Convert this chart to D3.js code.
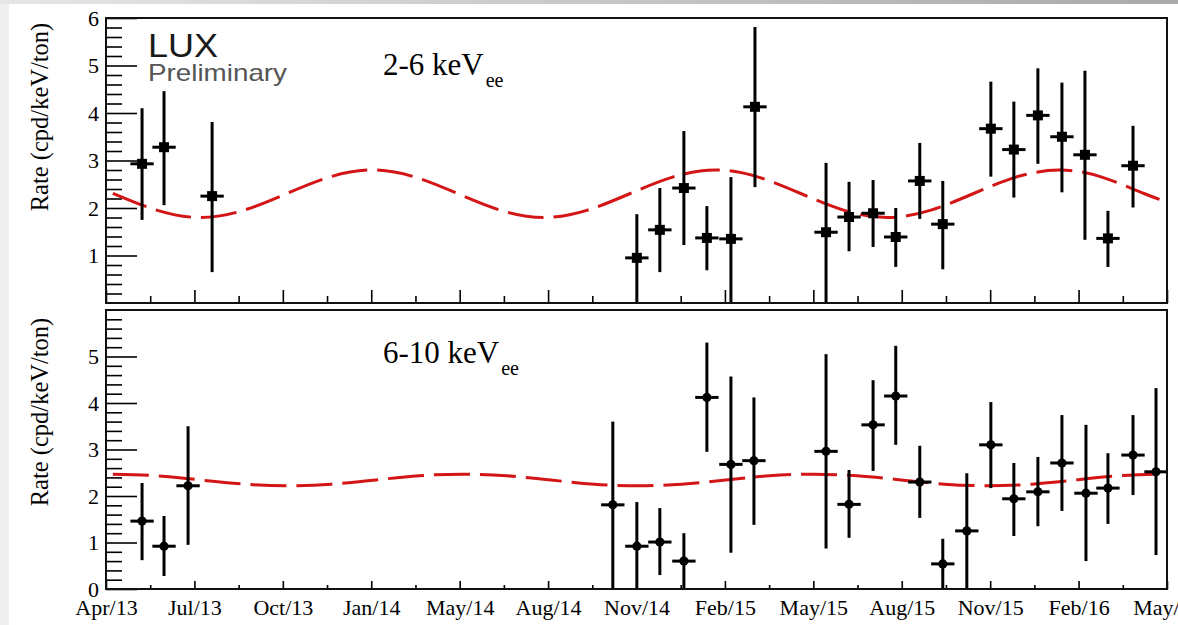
<!DOCTYPE html>
<html><head><meta charset="utf-8">
<script src="https://cdn.jsdelivr.net/npm/d3@7"></script>
<style>body{margin:0;background:#fff;} svg{display:block}</style>
</head><body><svg id="c" width="1178" height="625"></svg>
<script>
// ---------- data ----------
const xTickLabels = ["Apr/13","Jul/13","Oct/13","Jan/14","May/14","Aug/14","Nov/14","Feb/15","May/15","Aug/15","Nov/15","Feb/16","May/16"];
const axisStartYear = 2013.30, axisEndYear = 2016.39;
const binHalfWidth = 0.034; // years
const yTicksTop = [1,2,3,4,5,6];
const yTicksBottom = [0,1,2,3,4,5];

// 2-6 keVee
const lowYear = [2013.405,2013.469,2013.609,2014.846,2014.913,2014.983,2015.050,2015.120,2015.190,2015.397,2015.464,2015.534,2015.600,2015.670,2015.737,2015.877,2015.944,2016.014,2016.084,2016.151,2016.218,2016.291];
const lowRate = [2.93,3.28,2.25,0.95,1.54,2.42,1.37,1.35,4.13,1.49,1.81,1.89,1.39,2.57,1.66,3.67,3.23,3.95,3.50,3.12,1.36,2.89];
const lowRateMin = [1.75,2.06,0.65,0.0,0.65,1.22,0.69,0.0,2.44,0.0,1.09,1.18,0.76,1.77,0.71,2.66,2.22,2.93,2.33,1.33,0.76,2.01];
const lowRateMax = [4.10,4.46,3.81,1.87,2.42,3.62,2.04,2.65,5.81,2.95,2.55,2.59,2.00,3.37,2.57,4.66,4.24,4.94,4.64,4.89,1.94,3.73];

// 6-10 keVee
const highYear = [2013.405,2013.469,2013.539,2014.776,2014.846,2014.913,2014.983,2015.050,2015.120,2015.187,2015.397,2015.464,2015.534,2015.600,2015.670,2015.737,2015.807,2015.877,2015.944,2016.014,2016.084,2016.154,2016.218,2016.291,2016.358];
const highRate = [1.46,0.92,2.22,1.81,0.92,1.01,0.60,4.12,2.68,2.76,2.96,1.82,3.53,4.15,2.30,0.54,1.25,3.10,1.94,2.09,2.71,2.06,2.17,2.88,2.52];
const highRateMin = [0.62,0.28,0.95,0.0,0.0,0.30,0.0,2.95,0.78,1.38,0.87,1.10,2.54,3.10,1.53,0.0,0.0,2.17,1.14,1.35,1.68,0.60,1.40,2.02,0.73];
const highRateMax = [2.28,1.57,3.50,3.60,1.87,1.74,1.20,5.30,4.57,4.12,5.05,2.56,4.49,5.23,3.08,1.08,2.49,4.02,2.71,2.84,3.74,3.53,2.92,3.74,4.32];

// fitted modulation curves
const lowFitYear = [2013.32,2013.45,2013.575,2013.70,2013.825,2013.95,2014.075,2014.20,2014.325,2014.45,2014.575,2014.70,2014.825,2014.95,2015.075,2015.20,2015.325,2015.45,2015.575,2015.70,2015.825,2015.95,2016.075,2016.20,2016.325,2016.378];
const lowFitRate = [2.31,1.95,1.80,1.95,2.30,2.65,2.80,2.65,2.30,1.95,1.80,1.95,2.30,2.65,2.80,2.65,2.30,1.95,1.80,1.95,2.30,2.65,2.80,2.65,2.30,2.16];
const highFitYear = [2013.32,2013.447,2013.575,2013.703,2013.83,2013.957,2014.085,2014.212,2014.34,2014.467,2014.595,2014.722,2014.85,2014.977,2015.105,2015.232,2015.36,2015.487,2015.615,2015.742,2015.87,2015.997,2016.125,2016.252,2016.38];
const highFitRate = [2.47,2.435,2.345,2.255,2.22,2.255,2.345,2.435,2.47,2.435,2.345,2.255,2.22,2.255,2.345,2.435,2.47,2.435,2.345,2.255,2.22,2.255,2.345,2.435,2.48];

// ---------- drawing ----------
const svg = d3.select("#c");
const defs = svg.append("defs");
const grad = defs.append("linearGradient").attr("id","topband");
grad.append("stop").attr("offset","0%").attr("stop-color","#e6e6e6");
grad.append("stop").attr("offset","100%").attr("stop-color","#a9a9a9");
svg.append("rect").attr("width",1178).attr("height",625).attr("fill","#efefef");
svg.append("rect").attr("width",1178).attr("height",4).attr("fill","url(#topband)");
svg.append("rect").attr("x",9).attr("y",4).attr("width",1169).attr("height",621).attr("fill","#fff");

const X0 = 106, X1 = 1167;
const x = d3.scaleLinear([axisStartYear, axisEndYear], [X0, X1]);
const step = (axisEndYear - axisStartYear) / 12;
const majorX = xTickLabels.map((d,i) => axisStartYear + i*step);
const minorX = d3.range(12).map(i => axisStartYear + (i+0.5)*step);
const serif = "'Liberation Serif','Times New Roman',serif";

function panel(cfg) {
  const y = d3.scaleLinear([0, 6], [cfg.bottom, cfg.top]);
  const g = svg.append("g");
  const cid = "clip" + cfg.id;
  defs.append("clipPath").attr("id", cid).append("rect")
    .attr("x", X0).attr("y", cfg.top).attr("width", X1 - X0).attr("height", cfg.bottom - cfg.top);

  // y minor ticks
  const minorY = d3.range(0, 30).map(i => i*0.2).filter(v => Math.abs(v - Math.round(v)) > 1e-6);
  g.append("g").attr("transform", `translate(${X0},0)`)
    .call(d3.axisLeft(y).tickValues(minorY).tickSize(-16).tickFormat(""))
    .call(a => a.select(".domain").remove());
  g.append("g").attr("transform", `translate(${X0},0)`)
    .call(d3.axisLeft(y).tickValues(cfg.yTicks).tickSize(-31).tickPadding(7).tickFormat(d3.format("d")))
    .call(a => a.select(".domain").remove());
  // x ticks
  g.append("g").attr("transform", `translate(0,${cfg.bottom})`)
    .call(d3.axisBottom(x).tickValues(minorX).tickSize(-cfg.xMinor).tickFormat(""))
    .call(a => a.select(".domain").remove());
  g.append("g").attr("transform", `translate(0,${cfg.bottom})`)
    .call(d3.axisBottom(x).tickValues(majorX).tickSize(-cfg.xMajor).tickPadding(10)
      .tickFormat((d,i) => cfg.xLabels ? xTickLabels[i] : ""))
    .call(a => a.select(".domain").remove());
  g.selectAll(".tick line").attr("stroke", "#000").attr("stroke-width", 1.6);
  g.selectAll(".tick text").attr("font-family", serif).attr("font-size", 22).attr("fill", "#000");

  // y title
  g.append("text").attr("transform", `translate(39,${cfg.titleY}) rotate(-90)`)
    .attr("text-anchor", "middle").attr("dominant-baseline", "central")
    .attr("font-family", serif).attr("font-size", 24.5).text("Rate (cpd/keV/ton)");

  const plot = g.append("g").attr("clip-path", `url(#${cid})`);
  // fit curve
  const fit = cfg.fitYear.map((d,i) => [d, cfg.fitRate[i]]);
  plot.append("path").datum(fit)
    .attr("d", d3.line().x(d => x(d[0])).y(d => y(d[1])).curve(d3.curveNatural))
    .attr("fill", "none").attr("stroke", "#d41515").attr("stroke-width", 3)
    .attr("stroke-dasharray", "36,10");

  const pts = cfg.year.map((d,i) => ({t: d, v: cfg.rate[i], lo: cfg.lo[i], hi: cfg.hi[i]}));
  plot.selectAll(".ev").data(pts).join("line")
    .attr("x1", d => x(d.t)).attr("x2", d => x(d.t))
    .attr("y1", d => y(d.lo)).attr("y2", d => y(d.hi))
    .attr("stroke", "#000").attr("stroke-width", 3);
  plot.selectAll(".eh").data(pts).join("line")
    .attr("x1", d => x(d.t - binHalfWidth)).attr("x2", d => x(d.t + binHalfWidth))
    .attr("y1", d => y(d.v)).attr("y2", d => y(d.v))
    .attr("stroke", "#000").attr("stroke-width", 3);
  if (cfg.square) {
    plot.selectAll(".m").data(pts).join("rect")
      .attr("x", d => x(d.t) - 5).attr("y", d => y(d.v) - 5)
      .attr("width", 10).attr("height", 10).attr("fill", "#000");
  } else {
    plot.selectAll(".m").data(pts).join("circle")
      .attr("cx", d => x(d.t)).attr("cy", d => y(d.v)).attr("r", 4.6).attr("fill", "#000");
  }

  // frame
  g.append("rect").attr("x", X0).attr("y", cfg.top).attr("width", X1 - X0).attr("height", cfg.bottom - cfg.top)
    .attr("fill", "none").attr("stroke", "#111").attr("stroke-width", 2);

  // energy label
  const lab = g.append("text").attr("x", 383).attr("y", cfg.labelY)
    .attr("font-family", serif).attr("font-size", 31).attr("fill", "#000");
  lab.append("tspan").text(cfg.label);
  lab.append("tspan").attr("dy", 12).attr("dx", 2).attr("font-size", 20).text("ee");
  return g;
}

panel({id: "t", top: 18, bottom: 303, yTicks: yTicksTop, xMajor: 13, xMinor: 7, xLabels: false,
  titleY: 117, year: lowYear, rate: lowRate, lo: lowRateMin, hi: lowRateMax,
  fitYear: lowFitYear, fitRate: lowFitRate, square: true, label: "2-6 keV", labelY: 75});
panel({id: "b", top: 310, bottom: 589, yTicks: yTicksBottom, xMajor: 8, xMinor: 4, xLabels: true,
  titleY: 412, year: highYear, rate: highRate, lo: highRateMin, hi: highRateMax,
  fitYear: highFitYear, fitRate: highFitRate, square: false, label: "6-10 keV", labelY: 363});

// LUX logo
svg.append("text").attr("x", 148).attr("y", 57).attr("font-family", "'Liberation Sans',Arial,sans-serif")
  .attr("font-size", 33).attr("fill", "#1a1a1a").attr("textLength", 70).attr("lengthAdjust", "spacingAndGlyphs").text("LUX");
svg.append("text").attr("x", 148).attr("y", 81).attr("font-family", "'Liberation Sans',Arial,sans-serif")
  .attr("font-size", 24).attr("fill", "#555").attr("textLength", 139).attr("lengthAdjust", "spacingAndGlyphs").text("Preliminary");
</script></body></html>
